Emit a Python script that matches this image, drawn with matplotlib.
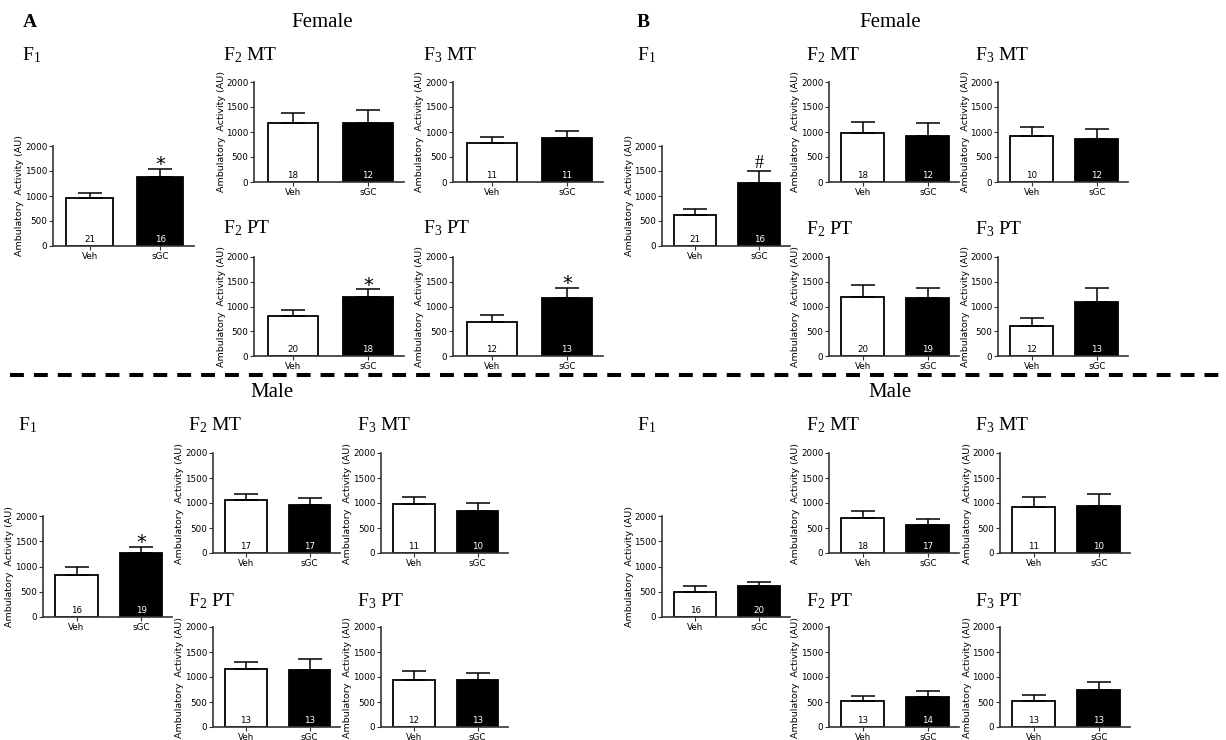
import matplotlib
matplotlib.use("Agg")
import matplotlib.pyplot as plt
from matplotlib.lines import Line2D
from matplotlib.transforms import offset_copy

plt.rcParams["font.family"] = "DejaVu Sans"
plt.rcParams["mathtext.fontset"] = "custom"
plt.rcParams["mathtext.rm"] = "Liberation Serif"
plt.rcParams["mathtext.it"] = "Liberation Serif:italic"
plt.rcParams["lines.scale_dashes"] = False

# panel order: F1, F2 MT, F3 MT, F2 PT, F3 PT
panel_names = ["F$_{1}$", "F$_{2}$ MT", "F$_{3}$ MT", "F$_{2}$ PT", "F$_{3}$ PT"]
groups = ["Veh", "sGC"]

# A - female
a_female_veh = [960, 1187, 773, 805, 678]
a_female_veh_err = [100, 186, 120, 128, 147]
a_female_sgc = [1380, 1173, 880, 1201, 1181]
a_female_sgc_err = [170, 267, 133, 148, 195]
a_female_n_veh = [21, 18, 11, 20, 12]
a_female_n_sgc = [16, 12, 11, 18, 13]
a_female_marks = ["*", "", "", "*", "*"]

# B - female
b_female_veh = [613, 980, 913, 1201, 604]
b_female_veh_err = [120, 213, 194, 242, 168]
b_female_sgc = [1253, 927, 853, 1174, 1081]
b_female_sgc_err = [240, 253, 214, 209, 288]
b_female_n_veh = [21, 18, 10, 20, 12]
b_female_n_sgc = [16, 12, 12, 19, 13]
b_female_marks = ["#", "", "", "", ""]

# A - male
a_male_veh = [833, 1060, 980, 1153, 947]
a_male_veh_err = [154, 114, 148, 154, 173]
a_male_sgc = [1260, 953, 846, 1140, 933]
a_male_sgc_err = [127, 141, 154, 213, 140]
a_male_n_veh = [16, 17, 11, 13, 12]
a_male_n_sgc = [19, 17, 10, 13, 13]
a_male_marks = ["*", "", "", "", ""]

# B - male
b_male_veh = [500, 705, 919, 520, 520]
b_male_veh_err = [107, 141, 209, 93, 113]
b_male_sgc = [620, 564, 933, 593, 747]
b_male_sgc_err = [80, 114, 248, 134, 160]
b_male_n_veh = [16, 18, 11, 13, 13]
b_male_n_sgc = [20, 17, 10, 14, 13]
b_male_marks = ["", "", "", "", ""]

W, H = 1226, 740
fig = plt.figure(figsize=(W / 100, H / 100), dpi=100)

# layout in pixels: axes (left, right, top, bottom), panel label (x, baseline)
a_female_boxes = [(53, 194, 146, 246), (254, 404, 82, 182), (453, 603, 82, 182),
                  (254, 404, 257, 356), (453, 603, 257, 356)]
a_female_labels = [(22, 60), (223, 60), (423, 60), (223, 233), (423, 233)]
b_female_boxes = [(662, 790, 146, 246), (829, 959, 82, 182), (998, 1128, 82, 182),
                  (829, 959, 257, 356), (998, 1128, 257, 356)]
b_female_labels = [(637, 60), (806, 60), (975, 60), (806, 234), (975, 234)]
a_male_boxes = [(43, 172, 516, 617), (213, 340, 453, 553), (381, 508, 453, 553),
                (213, 340, 627, 727), (381, 508, 627, 727)]
a_male_labels = [(18, 430), (188, 430), (357, 430), (188, 606), (357, 606)]
b_male_boxes = [(662, 790, 516, 617), (829, 959, 453, 553), (1000, 1130, 453, 553),
                (829, 959, 627, 727), (1000, 1130, 627, 727)]
b_male_labels = [(637, 430), (806, 430), (975, 430), (806, 606), (975, 606)]

serif = "Liberation Serif"


def fig_text(x, y, s, **kw):
    fig.text(x / W, 1 - y / H, s, **kw)


def draw_group(boxes, labels, veh, veh_err, sgc, sgc_err, n_veh, n_sgc, marks):
    for i in range(5):
        l, r, t, b = boxes[i]
        ax = fig.add_axes([l / W, 1 - b / H, (r - l) / W, (b - t) / H])
        x = [0, 1]
        ax.bar(x, [veh[i], sgc[i]], width=0.66, color=["white", "black"],
               edgecolor="black", linewidth=1.3, zorder=2)
        ax.errorbar(x, [veh[i], sgc[i]], yerr=[[0, 0], [veh_err[i], sgc_err[i]]],
                    fmt="none", ecolor="black", elinewidth=1.1, capsize=8.5,
                    capthick=1.1, zorder=3)
        ax.text(0, 75, str(n_veh[i]), ha="center", va="baseline", fontsize=6.3, color="black")
        ax.text(1, 75, str(n_sgc[i]), ha="center", va="baseline", fontsize=6.3, color="white")
        top = sgc[i] + sgc_err[i]
        if marks[i] == "*":
            ax.text(1, top - 30, "*", ha="center", va="baseline", fontsize=14, clip_on=False)
        elif marks[i] == "#":
            ax.text(1, top + 70, "#", ha="center", va="baseline", fontsize=13,
                    family=serif, clip_on=False)
        ax.set_xlim(-0.52, 1.48)
        ax.set_ylim(0, 2000)
        ax.set_yticks([0, 500, 1000, 1500, 2000])
        ax.set_xticks(x)
        ax.set_xticklabels(groups)
        for s in ["top", "right"]:
            ax.spines[s].set_visible(False)
        for s in ["left", "bottom"]:
            ax.spines[s].set_color("#333333")
            ax.spines[s].set_linewidth(1.2)
        ax.tick_params(axis="both", labelsize=6.3, length=3, width=0.8, pad=1,
                       color="#333333")
        tr = offset_copy(ax.transAxes, fig=fig, x=-33, y=0, units="dots")
        ax.text(0, 0.5, "Ambulatory  Activity (AU)", rotation=90, ha="center",
                va="center", fontsize=6.8, transform=tr)
        fig_text(labels[i][0], labels[i][1], panel_names[i], family=serif,
                 fontsize=14, va="baseline", ha="left")


draw_group(a_female_boxes, a_female_labels, a_female_veh, a_female_veh_err,
           a_female_sgc, a_female_sgc_err, a_female_n_veh, a_female_n_sgc, a_female_marks)
draw_group(b_female_boxes, b_female_labels, b_female_veh, b_female_veh_err,
           b_female_sgc, b_female_sgc_err, b_female_n_veh, b_female_n_sgc, b_female_marks)
draw_group(a_male_boxes, a_male_labels, a_male_veh, a_male_veh_err,
           a_male_sgc, a_male_sgc_err, a_male_n_veh, a_male_n_sgc, a_male_marks)
draw_group(b_male_boxes, b_male_labels, b_male_veh, b_male_veh_err,
           b_male_sgc, b_male_sgc_err, b_male_n_veh, b_male_n_sgc, b_male_marks)

# headings
fig_text(23, 27, "A", family=serif, fontsize=14, weight="bold", va="baseline")
fig_text(637, 27, "B", family=serif, fontsize=14, weight="bold", va="baseline")
fig_text(322, 27, "Female", family=serif, fontsize=15, ha="center", va="baseline")
fig_text(890, 27, "Female", family=serif, fontsize=15, ha="center", va="baseline")
fig_text(272, 397, "Male", family=serif, fontsize=15, ha="center", va="baseline")
fig_text(890, 397, "Male", family=serif, fontsize=15, ha="center", va="baseline")

# dashed separator
fig.add_artist(Line2D([10 / W, 1], [1 - 375 / H] * 2, transform=fig.transFigure,
                      color="black", linewidth=2.9, dashes=(10, 7.2)))

fig.savefig("out.png", dpi=100)
